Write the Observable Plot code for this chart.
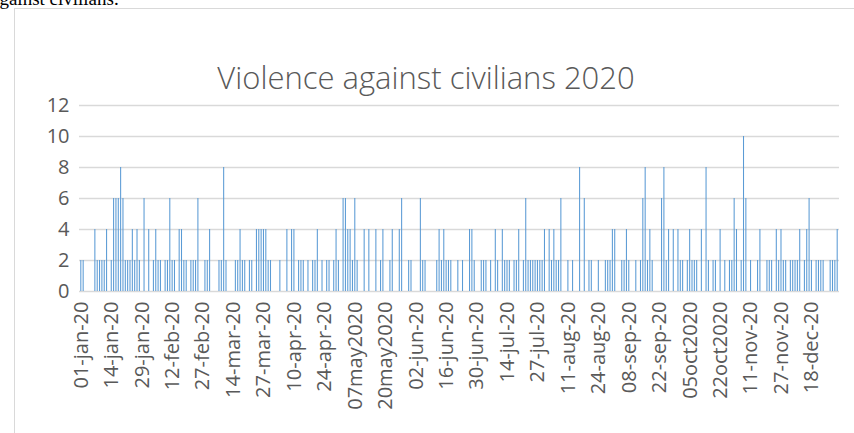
<!DOCTYPE html>
<html>
<head>
<meta charset="utf-8">
<script src="https://cdn.jsdelivr.net/npm/d3@7"></script>
<script src="https://cdn.jsdelivr.net/npm/@observablehq/plot@0.6"></script>
<style>
  html, body { margin: 0; padding: 0; background: #fff; overflow: hidden; }
  #page { position: relative; width: 854px; height: 433px; overflow: hidden; }
  #doctext { position: absolute; left: -9px; top: -11px; font-family: "Liberation Serif", "Times New Roman", serif; font-size: 19px; line-height: 19px; color: #000; white-space: nowrap; }
  #frame { position: absolute; left: 14px; top: 8px; width: 900px; height: 500px; border: 1px solid #d9d9d9; box-sizing: border-box; }
  #title { position: absolute; left: 0; width: 852px; top: 62px; text-align: center; font-family: "Open Sans", sans-serif; font-weight: 300; font-size: 31px; line-height: 31px; color: #595959; white-space: nowrap; }
  #chart { position: absolute; left: 0; top: 0; }
</style>
</head>
<body>
<div id="page">
  <div id="doctext">against civilians.</div>
  <div id="frame"></div>
  <div id="chart"></div>
  <div id="title">Violence against civilians 2020</div>
</div>
<script>
// Daily counts in category order (one entry per category on the axis)
const values = [
  2,2,0,0,0,0,4,2,2,2,2,4,0,
  2,6,6,6,8,6,2,2,2,4,2,4,2,
  0,6,0,4,0,2,4,2,2,0,2,2,6,
  2,2,0,4,4,2,2,0,2,2,2,6,0,
  0,2,2,4,0,0,0,2,2,8,2,0,0,
  0,2,2,4,2,2,0,2,2,0,4,4,4,
  4,4,2,2,0,0,0,2,0,0,4,0,4,
  4,0,2,2,2,0,2,0,2,2,4,0,2,
  0,2,2,0,2,4,2,0,6,6,4,4,2,
  6,2,0,0,4,0,4,0,0,4,0,2,4,
  0,0,2,4,0,0,4,6,0,0,2,2,0,
  0,0,6,2,2,0,0,0,0,2,4,2,4,
  2,2,2,0,0,2,0,2,0,0,4,4,2,
  0,0,2,2,2,0,2,0,4,2,0,4,2,
  2,2,0,2,2,4,0,2,6,2,2,2,2,
  2,2,2,4,0,4,2,4,2,2,6,0,0,
  2,0,2,0,0,8,0,6,0,2,2,0,0,
  2,0,0,2,2,2,4,4,0,0,2,2,4,
  2,0,0,2,0,2,6,8,2,4,2,0,0,
  0,6,8,2,4,0,4,0,4,2,2,0,2,
  4,2,2,2,0,4,0,8,2,0,2,2,0,
  4,0,2,0,2,2,6,4,0,2,10,6,0,
  2,0,0,2,4,0,0,2,2,2,0,4,2,
  4,2,2,0,2,2,2,2,4,0,2,4,6,
  2,0,2,2,2,2,0,0,2,2,2,4
];

// Category labels shown on the axis (every 13th category)
const tickLabels = [
  "01-jan-20","14-jan-20","29-jan-20","12-feb-20","27-feb-20","14-mar-20",
  "27-mar-20","10-apr-20","24-apr-20","07may2020","20may2020","02-jun-20",
  "16-jun-20","30-jun-20","14-jul-20","27-jul-20","11-aug-20","24-aug-20",
  "08-sep-20","22-sep-20","05oct2020","22oct2020","11-nov-20","27-nov-20",
  "18-dec-20"
];
const labelEvery = 13;
const yTicks = [0, 2, 4, 6, 8, 10, 12];

const data = values.map((v, i) => ({i, v}));
const tickIdx = tickLabels.map((_, k) => k * labelEvery);

const chart = Plot.plot({
  width: 854,
  height: 433,
  marginLeft: 79,
  marginRight: 15,
  marginTop: 105,
  marginBottom: 142,
  style: {fontFamily: "'Open Sans', sans-serif", color: "#595959", background: "transparent", overflow: "visible"},
  x: {type: "band", domain: values.map((_, i) => i), padding: 0.55, align: 0.5},
  y: {domain: [0, 12]},
  marks: [
    Plot.gridY(yTicks, {stroke: "#d9d9d9", strokeOpacity: 1, strokeWidth: 1.3}),
    Plot.barY(data, {x: "i", y: "v", fill: "#5b9bd5", inset: 0}),
    Plot.axisY(yTicks, {tickSize: 0, tickPadding: 10, fontSize: 20, label: null}),
    Plot.axisX(tickIdx, {
      tickSize: 0, tickPadding: 10, tickRotate: -90, fontSize: 20, label: null,
      tickFormat: i => tickLabels[i / labelEvery]
    })
  ]
});
document.getElementById("chart").appendChild(chart);
</script>
</body>
</html>
